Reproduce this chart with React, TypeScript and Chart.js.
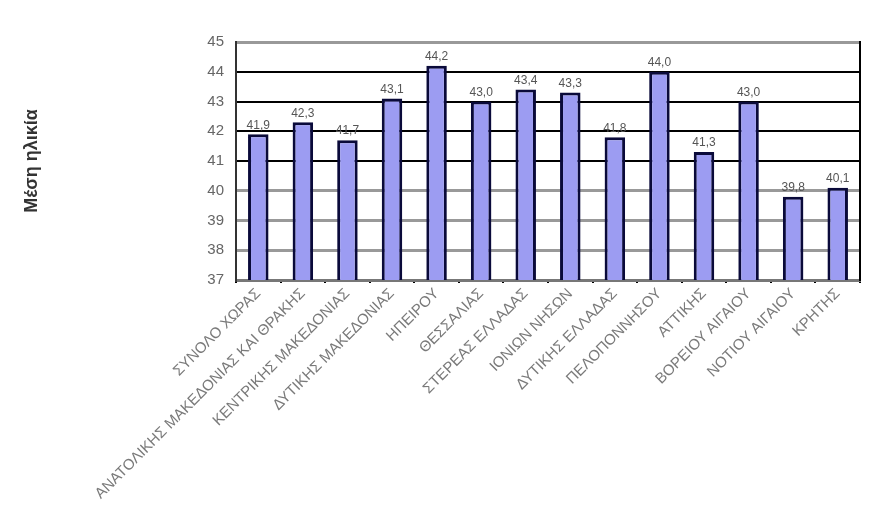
import React, { useEffect, useRef } from "react";
import { Chart, registerables } from "chart.js";

Chart.register(...registerables);

const regions = [
  "ΣΥΝΟΛΟ ΧΩΡΑΣ",
  "ΑΝΑΤΟΛΙΚΗΣ ΜΑΚΕΔΟΝΙΑΣ ΚΑΙ ΘΡΑΚΗΣ",
  "ΚΕΝΤΡΙΚΗΣ ΜΑΚΕΔΟΝΙΑΣ",
  "ΔΥΤΙΚΗΣ ΜΑΚΕΔΟΝΙΑΣ",
  "ΗΠΕΙΡΟΥ",
  "ΘΕΣΣΑΛΙΑΣ",
  "ΣΤΕΡΕΑΣ ΕΛΛΑΔΑΣ",
  "ΙΟΝΙΩΝ ΝΗΣΩΝ",
  "ΔΥΤΙΚΗΣ ΕΛΛΑΔΑΣ",
  "ΠΕΛΟΠΟΝΝΗΣΟΥ",
  "ΑΤΤΙΚΗΣ",
  "ΒΟΡΕΙΟΥ ΑΙΓΑΙΟΥ",
  "ΝΟΤΙΟΥ ΑΙΓΑΙΟΥ",
  "ΚΡΗΤΗΣ",
];

const meanAge = [41.9, 42.3, 41.7, 43.1, 44.2, 43.0, 43.4, 43.3, 41.8, 44.0, 41.3, 43.0, 39.8, 40.1];

const yMin = 37;
const yMax = 45;
const yTitle = "Μέση ηλικία";

const FONT = "'Liberation Sans', Arial, sans-serif";

// Writes each bar's value (Greek decimal comma) just above the bar
const valueLabels = {
  id: "valueLabels",
  afterDatasetsDraw(chart: any) {
    const { ctx } = chart;
    const meta = chart.getDatasetMeta(0);
    ctx.save();
    ctx.font = `12px ${FONT}`;
    ctx.fillStyle = "#555";
    ctx.textAlign = "center";
    ctx.textBaseline = "bottom";
    meta.data.forEach((bar: any, i: number) => {
      const txt = meanAge[i].toFixed(1).replace(".", ",");
      ctx.fillText(txt, bar.x, bar.y - 3);
    });
    ctx.restore();
  },
};

export default function App() {
  const ref = useRef<HTMLCanvasElement>(null);

  useEffect(() => {
    if (!ref.current) return;
    const chart = new Chart(ref.current, {
      type: "bar",
      data: {
        labels: regions,
        datasets: [
          {
            data: meanAge,
            backgroundColor: "#9c9cf2",
            borderColor: "#0a0a3a",
            borderWidth: 3,
            barPercentage: 0.46,
            categoryPercentage: 1,
          },
        ],
      },
      options: {
        responsive: false,
        animation: false,
        devicePixelRatio: 1,
        layout: { padding: { left: 21, top: 42, right: 0, bottom: 0 } },
        plugins: {
          legend: { display: false },
          tooltip: { enabled: false },
        },
        scales: {
          x: {
            offset: true,
            grid: {
              offset: true,
              drawOnChartArea: false,
              drawTicks: true,
              tickLength: 3,
              color: "#000",
              lineWidth: 2,
            },
            border: { display: true, color: "#777", width: 3 },
            ticks: {
              autoSkip: false,
              minRotation: 45,
              maxRotation: 45,
              padding: 2,
              color: "#7a7a7a",
              font: { family: FONT, size: 15 },
            },
            afterFit(scale: any) {
              scale.height = 250;
            },
          },
          y: {
            min: yMin,
            max: yMax,
            ticks: {
              stepSize: 1,
              padding: 12,
              color: "#666",
              font: { family: FONT, size: 15 },
            },
            grid: {
              drawTicks: false,
              color: (c: any) => {
                const v = c.tick ? c.tick.value : 0;
                if (v >= 41 && v <= 44) return "#000";
                if (v === yMin) return "#777";
                return "#999";
              },
              lineWidth: (c: any) => {
                const v = c.tick ? c.tick.value : 0;
                if (v >= 41 && v <= 44) return 2;
                return 3;
              },
            },
            border: { display: true, color: "#333", width: 2 },
            title: {
              display: true,
              text: yTitle,
              color: "#333",
              padding: { top: 0, bottom: 0 },
              font: { family: FONT, size: 18, weight: "bold" },
            },
            afterFit(scale: any) {
              scale.width = 215;
            },
          },
          y2: {
            position: "right",
            min: yMin,
            max: yMax,
            ticks: { display: false },
            grid: { drawOnChartArea: false, drawTicks: false },
            border: { display: true, color: "#000", width: 2 },
            afterFit(scale: any) {
              scale.width = 10;
            },
          },
        },
      },
      plugins: [valueLabels],
    });
    return () => chart.destroy();
  }, []);

  return (
    <div style={{ position: "absolute", left: 0, top: 0, width: 870, height: 530, background: "#fff" }}>
      <canvas ref={ref} width={870} height={530} />
    </div>
  );
}
